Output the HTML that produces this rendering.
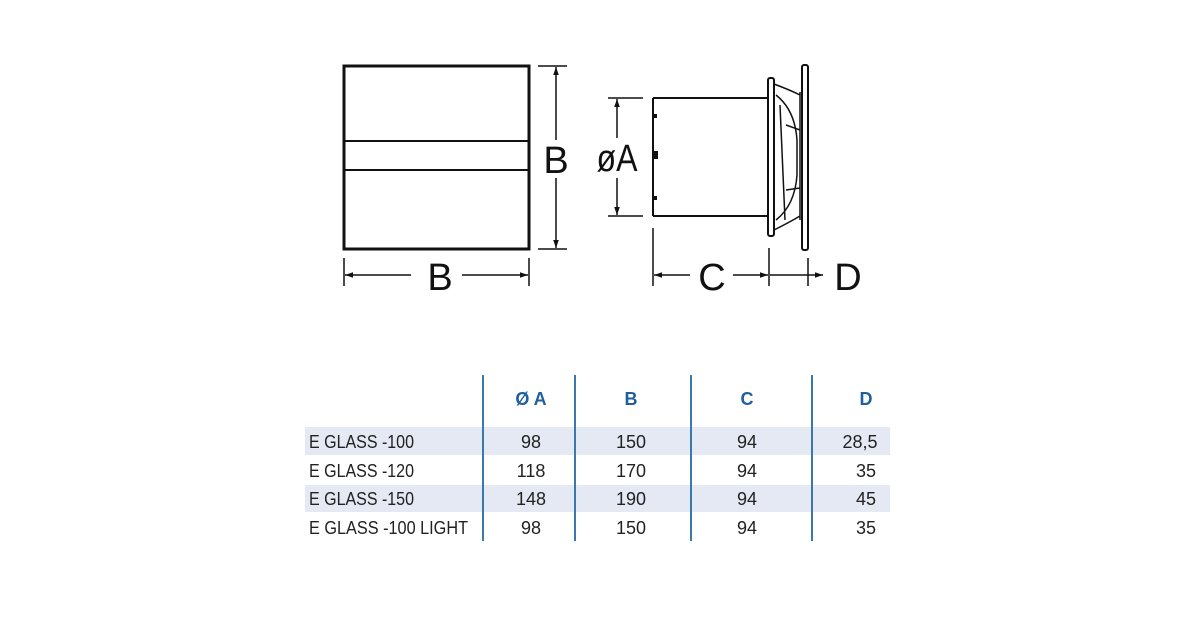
<!DOCTYPE html>
<html><head><style>
html,body{margin:0;padding:0;background:#fff;}
svg{display:block}
</style></head><body>
<svg width="1200" height="630" viewBox="0 0 1200 630" xmlns="http://www.w3.org/2000/svg">
<defs>
<marker id="ar" viewBox="0 0 10 10" refX="10" refY="5" markerWidth="8" markerHeight="8" orient="auto-start-reverse" markerUnits="userSpaceOnUse"><path d="M0,1.5 L10,5 L0,8.5 z" fill="#111"/></marker>
</defs>
<g stroke="#111" fill="none">
<rect x="344" y="66" width="185" height="183" stroke-width="3"/>
<line x1="344" y1="141" x2="529" y2="141" stroke-width="2"/>
<line x1="344" y1="170" x2="529" y2="170" stroke-width="2"/>
<line x1="538" y1="66" x2="567" y2="66" stroke-width="1.5"/>
<line x1="538" y1="249" x2="567" y2="249" stroke-width="1.5"/>
<line x1="556" y1="67" x2="556" y2="140" stroke-width="1.5" marker-start="url(#ar)"/>
<line x1="556" y1="178" x2="556" y2="248" stroke-width="1.5" marker-end="url(#ar)"/>
<line x1="344" y1="258" x2="344" y2="286" stroke-width="1.5"/>
<line x1="529" y1="258" x2="529" y2="286" stroke-width="1.5"/>
<line x1="345" y1="275" x2="411" y2="275" stroke-width="1.5" marker-start="url(#ar)"/>
<line x1="462" y1="275" x2="528" y2="275" stroke-width="1.5" marker-end="url(#ar)"/>
<line x1="608" y1="98" x2="643" y2="98" stroke-width="1.5"/>
<line x1="608" y1="216" x2="643" y2="216" stroke-width="1.5"/>
<line x1="617" y1="99" x2="617" y2="138" stroke-width="1.5" marker-start="url(#ar)"/>
<line x1="617" y1="178" x2="617" y2="215" stroke-width="1.5" marker-end="url(#ar)"/>
<path d="M653,98 L768,98 M653,216 L768,216 M653,98 L653,115 L656,115 L656,117 L653,117 L653,197 L656,197 L656,199 L653,199 L653,216" stroke-width="2"/>
<rect x="654" y="151" width="4" height="8" fill="#111" stroke="none"/>
<rect x="768" y="78" width="6" height="158" rx="2" stroke-width="2"/>
<rect x="802" y="65" width="6" height="185" rx="2" stroke-width="2"/>
<path d="M774,84 Q790,90 800,95 M774,230 Q790,222 800,216 M776,95 Q795,110 797,140 L797,175 Q795,205 776,220 M780,105 L785,220 M786,125 L800,130 M786,190 L800,188 M800,92 L800,220" stroke-width="1.5"/>
<line x1="653" y1="228" x2="653" y2="286" stroke-width="1.5"/>
<line x1="769" y1="248" x2="769" y2="286" stroke-width="1.5"/>
<line x1="808" y1="258" x2="808" y2="286" stroke-width="1.5"/>
<line x1="654" y1="275" x2="690" y2="275" stroke-width="1.5" marker-start="url(#ar)"/>
<line x1="733" y1="275" x2="768" y2="275" stroke-width="1.5" marker-end="url(#ar)"/>
<line x1="770" y1="275" x2="808" y2="275" stroke-width="1.5"/>
<line x1="808" y1="275" x2="823" y2="275" stroke-width="1.5" marker-end="url(#ar)"/>
</g>
<g font-family="Liberation Sans, sans-serif" font-size="38" fill="#111" text-anchor="middle">
<text x="556" y="173">B</text>
<text x="440" y="290">B</text>
<text x="617" y="171" textLength="41" lengthAdjust="spacingAndGlyphs">øA</text>
<text x="712" y="290">C</text>
<text x="848" y="290">D</text>
</g>
<rect x="305" y="427" width="585" height="28" fill="#e5e9f3"/>
<rect x="305" y="485" width="585" height="27" fill="#e5e9f3"/>
<g stroke="#3a78ad" stroke-width="2">
<line x1="483" y1="375" x2="483" y2="541"/>
<line x1="575" y1="375" x2="575" y2="541"/>
<line x1="691" y1="375" x2="691" y2="541"/>
<line x1="812" y1="375" x2="812" y2="541"/>
</g>
<g font-family="Liberation Sans, sans-serif" font-size="18" font-weight="bold" fill="#1f5f9c" text-anchor="middle">
<text x="531" y="405">Ø A</text>
<text x="631" y="405">B</text>
<text x="747" y="405">C</text>
<text x="866" y="405">D</text>
</g>
<g font-family="Liberation Sans, sans-serif" font-size="18" fill="#222">
<text x="309" y="448" textLength="105" lengthAdjust="spacingAndGlyphs">E GLASS -100</text>
<text x="309" y="477" textLength="105" lengthAdjust="spacingAndGlyphs">E GLASS -120</text>
<text x="309" y="505" textLength="105" lengthAdjust="spacingAndGlyphs">E GLASS -150</text>
<text x="309" y="534" textLength="159" lengthAdjust="spacingAndGlyphs">E GLASS -100 LIGHT</text>
<g text-anchor="middle">
<text x="531" y="448">98</text><text x="631" y="448">150</text><text x="747" y="448">94</text><text x="860" y="448">28,5</text>
<text x="531" y="477">118</text><text x="631" y="477">170</text><text x="747" y="477">94</text><text x="866" y="477">35</text>
<text x="531" y="505">148</text><text x="631" y="505">190</text><text x="747" y="505">94</text><text x="866" y="505">45</text>
<text x="531" y="534">98</text><text x="631" y="534">150</text><text x="747" y="534">94</text><text x="866" y="534">35</text>
</g>
</g>
</svg>
</body></html>
